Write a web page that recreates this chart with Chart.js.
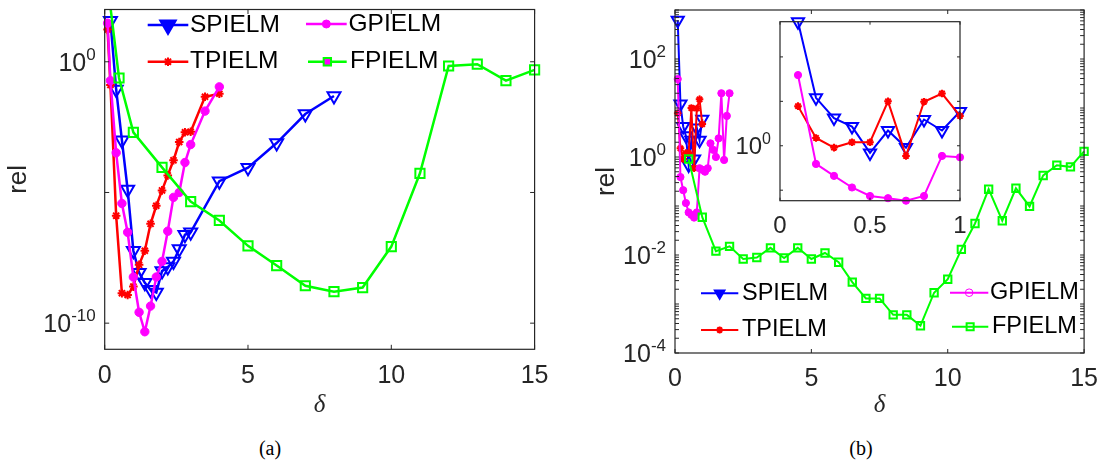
<!DOCTYPE html>
<html>
<head>
<meta charset="utf-8">
<title>rel vs delta</title>
<script src="https://cdn.jsdelivr.net/npm/chart.js@4.4.1/dist/chart.umd.min.js"></script>
<style>
  html, body { margin: 0; padding: 0; background: #fff; }
  body { position: relative; width: 1109px; height: 469px; overflow: hidden; }
  canvas { position: absolute; display: block; }
  .cap { position: absolute; top: 436px; width: 60px; text-align: center;
         font: 20px 'Liberation Serif', 'Times New Roman', serif; line-height: 24px; color: #000; }
</style>
</head>
<body>
<canvas id="panelA" width="560" height="430" style="left:0;top:0;width:560px;height:430px"></canvas>
<canvas id="panelB" width="529" height="430" style="left:580px;top:0;width:529px;height:430px"></canvas>
<canvas id="inset" width="260" height="240" style="left:720px;top:10px;width:260px;height:240px"></canvas>
<div class="cap" style="left:240px">(a)</div>
<div class="cap" style="left:831px">(b)</div>
<script>
// ---- panel (a) ----
const deltaS_a  = [0.2, 0.4, 0.6, 0.8, 1.0, 1.2, 1.4, 1.6, 1.8, 2.0, 2.2, 2.4, 2.6, 2.8, 3.0, 4, 5, 6, 7, 8];
const relS_a    = [37, 8.7e-2, 1.0e-3, 1.3e-5, 5.9e-8, 8.5e-9, 3.5e-9, 1.9e-9, 1.5e-9, 9.8e-9, 1.4e-8, 2.3e-8, 6.9e-8, 2.4e-7, 3.0e-7, 2.7e-5, 8.9e-5, 7.8e-4, 1.0e-2, 4.9e-2];
const deltaTG_a = [0.1, 0.2, 0.4, 0.6, 0.8, 1.0, 1.2, 1.4, 1.6, 1.8, 2.0, 2.2, 2.4, 2.6, 2.8, 3.0, 3.5, 4.0];
const relT_a    = [17, 1.3e-1, 1.3e-6, 1.4e-9, 1.2e-9, 2.5e-9, 1.7e-8, 5.9e-8, 6.3e-7, 3.1e-6, 1.2e-5, 4.5e-5, 1.7e-4, 8.5e-4, 2.0e-3, 2.1e-3, 4.6e-2, 6.0e-2];
const relG_a    = [30, 1.9e-1, 3.3e-4, 3.8e-6, 3.0e-7, 5.8e-9, 2.6e-10, 4.7e-11, 4.5e-10, 5.8e-9, 2.3e-8, 3.3e-7, 6.5e-6, 1.0e-5, 1.4e-4, 6.8e-4, 1.3e-2, 1.1e-1];
const deltaF_a  = [0.1, 0.5, 1, 2, 3, 4, 5, 6, 7, 8, 9, 10, 11, 12, 13, 14, 15];
const relF_a    = [1e3, 2.4e-1, 2.0e-3, 9.1e-5, 4.5e-6, 8.5e-7, 9.1e-8, 1.6e-8, 2.7e-9, 1.6e-9, 2.3e-9, 8.5e-8, 5.4e-5, 6.9e-1, 8.1e-1, 1.9e-1, 4.9e-1];

// ---- panel (b) ----
const deltaST_b = [0.1, 0.2, 0.3, 0.4, 0.5, 0.6, 0.7, 0.8, 0.9, 1.0];
const relS_b    = [620, 12, 4.2, 2.7, 0.69, 2.2, 0.91, 3.9, 2.2, 5.9];
const relT_b    = [7.8, 1.5, 0.91, 1.2, 1.2, 10, 0.59, 9.8, 15, 4.7];
const deltaG_b  = [0.1, 0.2, 0.3, 0.4, 0.5, 0.6, 0.7, 0.8, 0.9, 1.0, 1.1, 1.2, 1.3, 1.4, 1.5, 1.6, 1.7, 1.8, 1.9, 2.0];
const relG_b    = [39, 0.39, 0.21, 0.115, 0.074, 0.066, 0.058, 0.074, 0.59, 0.55, 0.50, 0.59, 1.9, 1.4, 1.0, 2.4, 20, 0.87, 6.9, 20];
const deltaF_b  = [0.5, 1.0, 1.5, 2.0, 2.5, 3.0, 3.5, 4.0, 4.5, 5.0, 5.5, 6.0, 6.5, 7.0, 7.5, 8.0, 8.5, 9.0, 9.5, 10.0, 10.5, 11.0, 11.5, 12.0, 12.5, 13.0, 13.5, 14.0, 14.5, 15.0];
const relF_b    = [0.91, 5.9e-2, 1.2e-2, 1.5e-2, 8.3e-3, 8.9e-3, 1.4e-2, 8.7e-3, 1.4e-2, 8.3e-3, 1.1e-2, 7.1e-3, 2.8e-3, 1.3e-3, 1.3e-3, 6.0e-4, 6.0e-4, 3.6e-4, 1.7e-3, 3.2e-3, 1.3e-2, 4.4e-2, 2.2e-1, 5.0e-2, 2.3e-1, 9.8e-2, 4.2e-1, 6.8e-1, 6.3e-1, 1.3];

// ---- axis ticks ----
const xTicksMain   = [0, 5, 10, 15];
const yLabels_a    = [1, 1e-10];
const yMarks_a     = [1, 1e-5, 1e-10];
const yLabels_b    = [1e-4, 1e-2, 1, 1e2];
const xTicksInset  = [0, 0.5, 1];
const yLabelsInset = [1];
const yMarksInset  = [0.1, 1, 10, 100];

const SANS = "'Liberation Sans', Arial, Helvetica, sans-serif";
const INK = '#262626';
const BLUE = '#0000ff', RED = '#ff0000', MAGENTA = '#ff00ff', GREEN = '#00ff00';
const NONE = 'rgba(0,0,0,0)';

Chart.defaults.font.family = SANS;

function logMarks(lo, hi) {
  const out = [];
  for (let e = lo; e < hi; e++) for (let m = 1; m < 10; m++) out.push(m * Math.pow(10, e));
  out.push(Math.pow(10, hi));
  return out;
}

function series(label, xs, ys, style) {
  return Object.assign({ label, data: xs.map((x, i) => ({ x, y: ys[i] })), fill: false, tension: 0 }, style);
}

const sStyle = (w, r) => ({ borderColor: BLUE, borderWidth: w, pointStyle: 'triangle', pointRotation: 180,
  pointRadius: r, pointBorderWidth: 2, pointBorderColor: BLUE, pointBackgroundColor: NONE, order: 4, clip: false });
const tStyle = (w, r) => ({ borderColor: RED, borderWidth: w, pointStyle: 'star',
  pointRadius: r, pointBorderWidth: 2, pointBorderColor: RED, pointBackgroundColor: RED, order: 3, clip: false });
const gStyle = (w, r) => ({ borderColor: MAGENTA, borderWidth: w, pointStyle: 'circle',
  pointRadius: r, pointBorderWidth: 1, pointBorderColor: MAGENTA, pointBackgroundColor: MAGENTA, order: 2, clip: false });
const fStyle = (w, r) => ({ borderColor: GREEN, borderWidth: w, pointStyle: 'rect',
  pointRadius: r, pointBorderWidth: 2, pointBorderColor: GREEN, pointBackgroundColor: NONE, order: 1, clip: false });

// box, inward tick marks, power-of-ten labels and optional opaque plot background
const framePlugin = {
  id: 'frame',
  beforeDatasetsDraw(chart, args, o) {
    if (!o.fill) return;
    const a = chart.chartArea, ctx = chart.ctx;
    ctx.save(); ctx.fillStyle = o.fill; ctx.fillRect(a.left, a.top, a.right - a.left, a.bottom - a.top); ctx.restore();
  },
  afterDatasetsDraw(chart, args, o) {
    const { ctx, chartArea: a, scales } = chart;
    const L = o.len;
    ctx.save();
    ctx.strokeStyle = INK; ctx.lineWidth = 1;
    ctx.beginPath();
    for (const v of o.xMarks) {
      const p = scales.x.getPixelForValue(v);
      ctx.moveTo(p, a.bottom); ctx.lineTo(p, a.bottom - L);
      ctx.moveTo(p, a.top); ctx.lineTo(p, a.top + L);
    }
    for (const v of o.yMarks) {
      const p = scales.y.getPixelForValue(v);
      if (p < a.top - 0.5 || p > a.bottom + 0.5) continue;
      ctx.moveTo(a.left, p); ctx.lineTo(a.left + L, p);
      ctx.moveTo(a.right, p); ctx.lineTo(a.right - L, p);
    }
    ctx.stroke();
    ctx.lineWidth = 1.2;
    ctx.strokeRect(a.left, a.top, a.right - a.left, a.bottom - a.top);

    // y tick labels as 10 with a raised exponent
    const F = o.labelSize, E = Math.round(F * 0.68);
    ctx.fillStyle = INK; ctx.textBaseline = 'alphabetic'; ctx.textAlign = 'left';
    for (const v of o.yLabels) {
      const p = scales.y.getPixelForValue(v);
      const exp = String(Math.round(Math.log10(v)));
      ctx.font = E + 'px ' + SANS;
      const we = ctx.measureText(exp).width;
      ctx.font = F + 'px ' + SANS;
      const wb = ctx.measureText('10').width;
      const x0 = a.left - o.labelPad - we - wb;
      const base = p + 0.36 * F;
      ctx.fillText('10', x0, base);
      ctx.font = E + 'px ' + SANS;
      ctx.fillText(exp, x0 + wb, base - 0.43 * F);
    }
    ctx.restore();
  }
};

// legend entries drawn as line + marker + name
const keyPlugin = {
  id: 'keys',
  afterDraw(chart, args, o) {
    if (!o.items) return;
    const ctx = chart.ctx;
    for (const it of o.items) {
      const ds = chart.data.datasets[it.ds];
      ctx.save();
      ctx.strokeStyle = ds.borderColor; ctx.lineWidth = ds.borderWidth;
      ctx.beginPath(); ctx.moveTo(it.x1, it.y); ctx.lineTo(it.x2, it.y); ctx.stroke();
      ctx.fillStyle = it.fill || ds.pointBackgroundColor;
      ctx.strokeStyle = ds.pointBorderColor; ctx.lineWidth = ds.pointBorderWidth;
      Chart.helpers.drawPoint(ctx, { pointStyle: ds.pointStyle, rotation: ds.pointRotation || 0,
        radius: it.r, borderWidth: ds.pointBorderWidth }, (it.x1 + it.x2) / 2, it.y);
      ctx.fillStyle = '#000'; ctx.textBaseline = 'middle'; ctx.textAlign = 'left';
      ctx.font = o.size + 'px ' + SANS;
      ctx.fillText(ds.label, it.tx, it.y);
      ctx.restore();
    }
  }
};

function panel(id, spec) {
  const cv = document.getElementById(id);
  return new Chart(cv, {
    type: 'line',
    data: { datasets: spec.datasets },
    plugins: [framePlugin, keyPlugin],
    options: {
      responsive: false, animation: false, devicePixelRatio: 1, events: [],
      layout: { padding: { left: 0, top: spec.area.top, right: cv.width - spec.area.right, bottom: 0 } },
      plugins: {
        legend: { display: false }, tooltip: { enabled: false },
        frame: { xMarks: spec.xMarks, yMarks: spec.yMarks, len: spec.tickLen, fill: spec.fill,
                 yLabels: spec.yLabels, labelSize: spec.tickSize, labelPad: spec.yPad },
        keys: { items: spec.keys, size: spec.keySize }
      },
      scales: {
        x: {
          type: 'linear', min: spec.xMin, max: spec.xMax,
          afterBuildTicks: s => { s.ticks = spec.xLabels.map(v => ({ value: v })); },
          afterFit: s => { s.height = cv.height - spec.area.bottom; },
          ticks: { autoSkip: false, maxRotation: 0, padding: spec.xPad, color: INK,
                   font: { size: spec.tickSize }, callback: v => String(v) },
          grid: { display: false, drawTicks: false }, border: { display: false },
          title: spec.xTitle ? { display: true, text: 'δ', color: INK,
                   font: { family: "'Liberation Serif', 'Times New Roman', serif", style: 'italic', size: 25 },
                   padding: { top: 0, bottom: spec.xTitlePad } } : { display: false }
        },
        y: {
          type: 'logarithmic', min: spec.yMin, max: spec.yMax,
          afterBuildTicks: s => { s.ticks = spec.yLabels.map(v => ({ value: v })); },
          afterFit: s => { s.width = spec.area.left; },
          ticks: { display: false },
          grid: { display: false, drawTicks: false }, border: { display: false },
          title: spec.yTitle ? { display: true, text: 'rel', color: INK, font: { size: 26 },
                   padding: { top: spec.yTitlePad, bottom: 0 } } : { display: false }
        }
      }
    }
  });
}

// (a)
panel('panelA', {
  area: { left: 104.7, top: 3.3, right: 544.3, bottom: 349.3 },
  xMin: 0, xMax: 15, yMin: 1e-11, yMax: 1e2,
  xLabels: xTicksMain, yLabels: yLabels_a, xMarks: xTicksMain, yMarks: yMarks_a,
  tickLen: 4.5, tickSize: 25, xPad: 11.5, yPad: 9, xTitle: true, xTitlePad: 10, yTitle: true, yTitlePad: 3.5,
  keySize: 24.5,
  datasets: [
    series('SPIELM', deltaS_a, relS_a, sStyle(2.5, 7.5)),
    series('TPIELM', deltaTG_a, relT_a, tStyle(2.5, 4.3)),
    series('GPIELM', deltaTG_a, relG_a, gStyle(2.5, 4.2)),
    series('FPIELM', deltaF_a, relF_a, Object.assign(fStyle(2.5, 6.5), { clip: { left: 8, top: 0, right: 10, bottom: 8 } }))
  ],
  keys: [
    { ds: 0, y: 25,   x1: 147.7, x2: 188.3, tx: 190, r: 9, fill: BLUE },
    { ds: 1, y: 61.7, x1: 147.7, x2: 188.3, tx: 190, r: 4.3 },
    { ds: 2, y: 24,   x1: 306,   x2: 346.7, tx: 348.5, r: 4 },
    { ds: 3, y: 61.7, x1: 308,   x2: 346.7, tx: 350, r: 5.2 }
  ]
});

// (b)
panel('panelB', {
  area: { left: 95, top: 10, right: 509, bottom: 353 },
  xMin: 0, xMax: 15, yMin: 1e-4, yMax: 1e3,
  xLabels: xTicksMain, yLabels: yLabels_b, xMarks: xTicksMain, yMarks: logMarks(-4, 3),
  tickLen: 4, tickSize: 25, xPad: 11, yPad: 9, xTitle: true, xTitlePad: 10, yTitle: true, yTitlePad: 11,
  keySize: 23.5,
  datasets: [
    series('SPIELM', deltaST_b, relS_b, sStyle(2, 7)),
    series('TPIELM', deltaST_b, relT_b, tStyle(2, 3.8)),
    series('GPIELM', deltaG_b, relG_b, gStyle(2, 3.6)),
    series('FPIELM', deltaF_b, relF_b, fStyle(2, 5.2))
  ],
  keys: [
    { ds: 0, y: 293.3, x1: 121, x2: 158.3, tx: 162, r: 5.5, fill: BLUE },
    { ds: 1, y: 330,   x1: 121, x2: 158.3, tx: 162, r: 3.5 },
    { ds: 2, y: 292.7, x1: 370, x2: 408.3, tx: 410, r: 3.8 },
    { ds: 3, y: 326.7, x1: 372, x2: 408.3, tx: 412, r: 5 }
  ]
});

// zoomed view of delta in [0, 1]
panel('inset', {
  area: { left: 60, top: 11.7, right: 240, bottom: 190.7 },
  xMin: 0, xMax: 1, yMin: 0.058, yMax: 620,
  xLabels: xTicksInset, yLabels: yLabelsInset, xMarks: xTicksInset, yMarks: yMarksInset,
  tickLen: 3, tickSize: 24, xPad: 11, yPad: 9, xTitle: false, yTitle: false, fill: '#fff',
  datasets: [
    series('SPIELM', deltaST_b, relS_b, sStyle(2, 7)),
    series('TPIELM', deltaST_b, relT_b, tStyle(2, 3.8)),
    series('GPIELM', deltaG_b.slice(0, deltaST_b.length), relG_b.slice(0, deltaST_b.length), gStyle(2, 3.6))
  ]
});
</script>
</body>
</html>
